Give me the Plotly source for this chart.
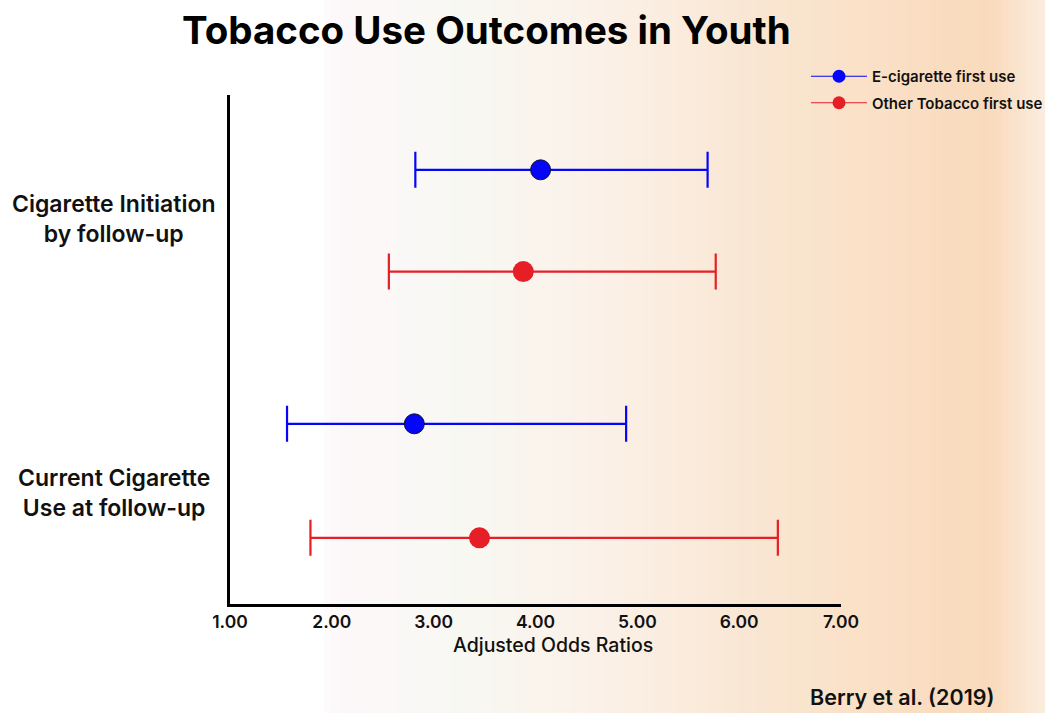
import plotly.graph_objects as go

# ---------------- data ----------------
outcomes = ["Cigarette Initiation<br>by follow-up", "Current Cigarette<br>Use at follow-up"]
series_names = ["E-cigarette first use", "Other Tobacco first use"]
aor = {
    "E-cigarette first use": [4.05, 2.81],
    "Other Tobacco first use": [3.88, 3.45],
}
ci_low = {
    "E-cigarette first use": [2.82, 1.56],
    "Other Tobacco first use": [2.56, 1.79],
}
ci_high = {
    "E-cigarette first use": [5.69, 4.89],
    "Other Tobacco first use": [5.77, 6.38],
}
x_ticks = [1, 2, 3, 4, 5, 6, 7]
title_text = "Tobacco Use Outcomes in Youth"
x_title = "Adjusted Odds Ratios"
source_text = "Berry et al. (2019)"

# ---------------- layout constants ----------------
W, H = 1045, 713
L, R, T, B = 230, 204, 95, 109
group_center = [2.47, 7.58]     # y-axis units (0 top .. 10 bottom)
half_gap = [1.0, 1.12]
series_sign = {"E-cigarette first use": -1, "Other Tobacco first use": 1}
label_y = [2.44, 7.82]
colors = {"E-cigarette first use": "#0505f7", "Other Tobacco first use": "#e61e26"}
marker_size = {"E-cigarette first use": 20, "Other Tobacco first use": 21}
marker_line = {"E-cigarette first use": dict(color="#111133", width=1),
               "Other Tobacco first use": dict(color="#e61e26", width=0)}
FONT = "Inter"

def px_to_paper_x(px):
    return (px - L) / (W - L - R)

def px_to_paper_y(py):
    return (H - B - py) / (H - T - B)

fig = go.Figure()

for name in series_names:
    ys = [group_center[i] + series_sign[name] * half_gap[i] for i in range(len(outcomes))]
    xs = aor[name]
    plus = [h - x for h, x in zip(ci_high[name], xs)]
    minus = [x - l for l, x in zip(ci_low[name], xs)]
    fig.add_trace(go.Scatter(
        x=xs, y=ys, mode="markers", name=name, showlegend=False,
        marker=dict(size=marker_size[name], color=colors[name], line=marker_line[name]),
        error_x=dict(type="data", array=plus, arrayminus=minus, symmetric=False,
                     color=colors[name], thickness=2.2, width=18),
        hoverinfo="x+name",
    ))

# legend-only entries
for name in series_names:
    fig.add_trace(go.Scatter(
        x=[None], y=[None], mode="lines+markers", name=name, legendgroup=name,
        line=dict(color=colors[name], width=1),
        marker=dict(size=13, color=colors[name]),
    ))

# background gradient (decorative)
stops = [
    (0, (255, 255, 255)), (322, (255, 255, 255)), (330, (253, 248, 250)),
    (460, (248, 248, 243)), (600, (251, 241, 232)), (760, (249, 230, 210)),
    (880, (250, 224, 198)), (990, (249, 218, 188)), (1045, (251, 236, 222)),
]

def color_at(px):
    for (x0, c0), (x1, c1) in zip(stops[:-1], stops[1:]):
        if x0 <= px <= x1:
            t = 0 if x1 == x0 else (px - x0) / (x1 - x0)
            return tuple(round(a + (b - a) * t) for a, b in zip(c0, c1))
    return stops[-1][1]

shapes = []
step = 6
for px in range(0, W, step):
    c = color_at(px + step / 2)
    shapes.append(dict(
        type="rect", xref="paper", yref="paper", layer="below",
        x0=px_to_paper_x(px), x1=px_to_paper_x(px + step + 0.5),
        y0=px_to_paper_y(H), y1=px_to_paper_y(0),
        fillcolor="rgb(%d,%d,%d)" % c, line=dict(width=0),
    ))

annotations = []
for i, lab in enumerate(outcomes):
    annotations.append(dict(
        text=lab, x=px_to_paper_x(114), xref="paper", y=label_y[i], yref="y",
        xanchor="center", yanchor="middle", align="center", showarrow=False,
        font=dict(family=FONT, size=23, color="#111111", weight=600),
    ))
annotations.append(dict(
    text=x_title, x=px_to_paper_x(553), xref="paper", y=px_to_paper_y(645), yref="paper",
    xanchor="center", yanchor="middle", showarrow=False,
    font=dict(family=FONT, size=19.5, color="#111111", weight=500),
))
annotations.append(dict(
    text=source_text, x=px_to_paper_x(997), xref="paper", y=px_to_paper_y(697), yref="paper",
    xanchor="right", yanchor="middle", showarrow=False,
    font=dict(family=FONT, size=21.5, color="#111111", weight=600),
))
annotations.append(dict(
    text=title_text, x=px_to_paper_x(486), xref="paper", y=px_to_paper_y(30), yref="paper",
    xanchor="center", yanchor="middle", showarrow=False,
    font=dict(family=FONT, size=38.5, color="#000000", weight=700),
))

fig.update_layout(
    width=W, height=H,
    margin=dict(l=L, r=R, t=T, b=B, autoexpand=False),
    paper_bgcolor="white", plot_bgcolor="rgba(0,0,0,0)",
    shapes=shapes, annotations=annotations,
    font=dict(family=FONT, color="#111111"),
    legend=dict(x=px_to_paper_x(806), y=px_to_paper_y(60), xanchor="left", yanchor="top",
                bgcolor="rgba(0,0,0,0)", font=dict(family=FONT, size=15, color="#111111", weight=600),
                itemwidth=56, tracegroupgap=4, traceorder="grouped"),
    xaxis=dict(range=[1, 7], tickvals=x_ticks, tickformat=".2f", showgrid=False, zeroline=False,
               showline=True, linecolor="black", linewidth=3, ticks="",
               tickfont=dict(family=FONT, size=17.5, color="#111111", weight=600)),
    yaxis=dict(range=[10, 0], showgrid=False, zeroline=False, showticklabels=False,
               showline=True, linecolor="black", linewidth=3, ticks=""),
)

fig.write_html("out.html", config={"displayModeBar": False},
               post_script="document.body.style.margin='0';document.body.style.padding='0';window.dispatchEvent(new Event('resize'));")
